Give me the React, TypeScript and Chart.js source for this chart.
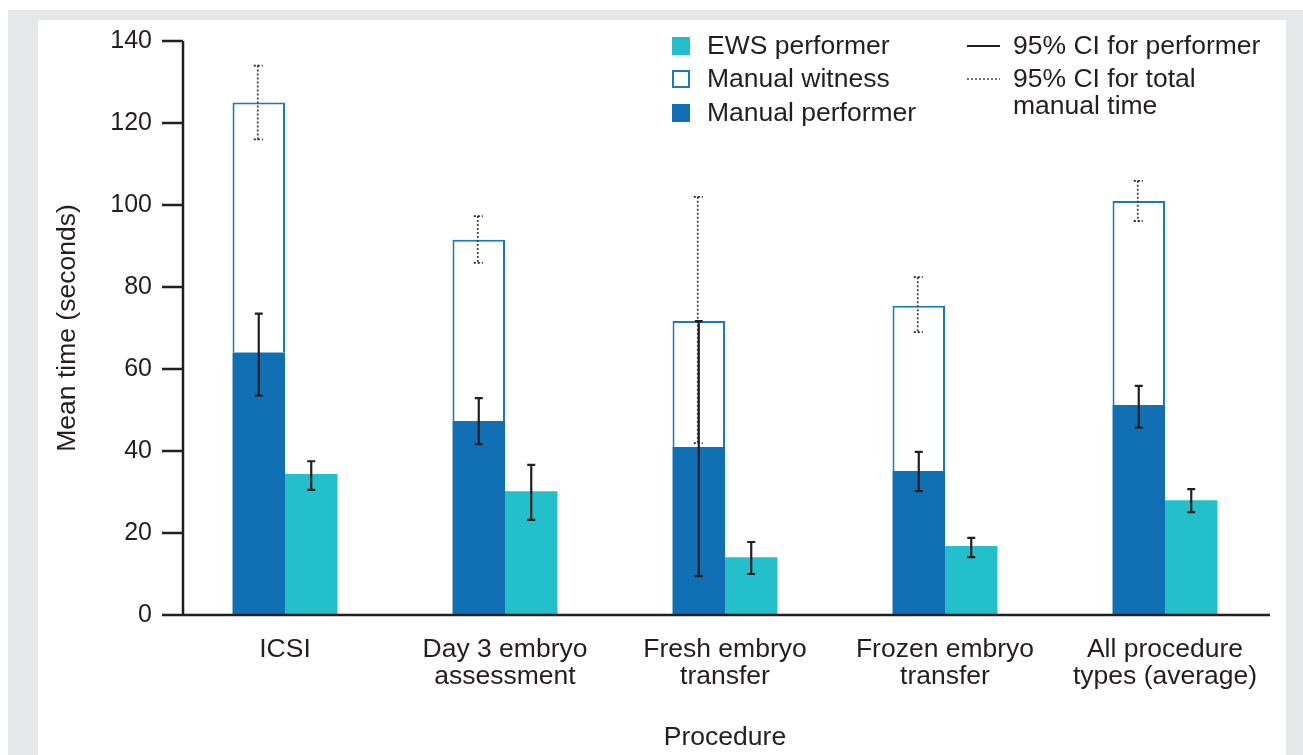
import React, { useEffect, useRef } from 'react';
import { Chart, registerables } from 'chart.js';

Chart.register(...registerables);

const categories = [
  ['ICSI'],
  ['Day 3 embryo', 'assessment'],
  ['Fresh embryo', 'transfer'],
  ['Frozen embryo', 'transfer'],
  ['All procedure', 'types (average)'],
];
const manualPerformer = [64, 47.3, 41, 35.1, 51.2];
const manualWitness = [61, 44.2, 30.7, 40.3, 49.8];
const ewsPerformer = [34.4, 30.2, 14.1, 16.8, 28];
const ciPerformerLow = [53.5, 41.7, 9.5, 30.2, 45.7];
const ciPerformerHigh = [73.5, 52.9, 71.7, 39.8, 55.9];
const ciTotalLow = [116, 85.9, 41.9, 69, 96.1];
const ciTotalHigh = [134, 97.3, 102, 82.4, 105.9];
const ciEwsLow = [30.5, 23.2, 10, 14.1, 25.1];
const ciEwsHigh = [37.5, 36.6, 17.8, 18.8, 30.7];
const yTicks = [0, 20, 40, 60, 80, 100, 120, 140];
const legendBoxLabels = ['EWS performer', 'Manual witness', 'Manual performer'];
const legendLineLabels = [['95% CI for performer'], ['95% CI for total', 'manual time']];
const yTitle = 'Mean time (seconds)';
const xTitle = 'Procedure';

const FONT = '"Liberation Sans", Arial, Helvetica, sans-serif';
const INK = '#231f20';
const BLUE = '#1170b3';
const TEAL = '#23bfca';
const OUTLINE = '#1a78bf';

const axesPlugin = {
  id: 'customAxes',
  afterDatasetsDraw(chart: any) {
    const { ctx, chartArea } = chart;
    const y = chart.scales.y;
    const ax = chartArea.left + 8;
    ctx.save();
    ctx.strokeStyle = INK;
    ctx.lineWidth = 2.5;
    ctx.beginPath();
    ctx.moveTo(ax, y.getPixelForValue(yTicks[yTicks.length - 1]));
    ctx.lineTo(ax, y.getPixelForValue(0));
    yTicks.forEach((v) => {
      const py = y.getPixelForValue(v);
      ctx.moveTo(ax - 21, py);
      ctx.lineTo(ax, py);
    });
    const y0 = y.getPixelForValue(0);
    ctx.moveTo(ax, y0);
    ctx.lineTo(chartArea.right - 5, y0);
    ctx.stroke();
    ctx.restore();
  },
};

function solidBar(ctx: any, x: number, y1: number, y2: number) {
  ctx.save();
  ctx.strokeStyle = INK;
  ctx.lineWidth = 2.2;
  ctx.setLineDash([]);
  ctx.beginPath();
  ctx.moveTo(x, y1);
  ctx.lineTo(x, y2);
  ctx.moveTo(x - 4, y1);
  ctx.lineTo(x + 4, y1);
  ctx.moveTo(x - 4, y2);
  ctx.lineTo(x + 4, y2);
  ctx.stroke();
  ctx.restore();
}

function dottedBar(ctx: any, x: number, y1: number, y2: number) {
  ctx.save();
  ctx.strokeStyle = '#444';
  ctx.lineWidth = 1.8;
  ctx.setLineDash([2, 2]);
  ctx.beginPath();
  ctx.moveTo(x, y1);
  ctx.lineTo(x, y2);
  ctx.stroke();
  ctx.strokeStyle = INK;
  ctx.beginPath();
  ctx.moveTo(x - 4, y1);
  ctx.lineTo(x + 5, y1);
  ctx.moveTo(x - 4, y2);
  ctx.lineTo(x + 5, y2);
  ctx.stroke();
  ctx.restore();
}

const errorPlugin = {
  id: 'errorBars',
  afterDatasetsDraw(chart: any) {
    const { ctx } = chart;
    const y = chart.scales.y;
    const perfMeta = chart.getDatasetMeta(0);
    const ewsMeta = chart.getDatasetMeta(2);
    for (let i = 0; i < categories.length; i++) {
      const xp = perfMeta.data[i].x;
      const xe = ewsMeta.data[i].x;
      dottedBar(ctx, xp - 1, y.getPixelForValue(ciTotalHigh[i]), y.getPixelForValue(ciTotalLow[i]));
      solidBar(ctx, xp, y.getPixelForValue(ciPerformerHigh[i]), y.getPixelForValue(ciPerformerLow[i]));
      solidBar(ctx, xe, y.getPixelForValue(ciEwsHigh[i]), y.getPixelForValue(ciEwsLow[i]));
    }
  },
};

const legendPlugin = {
  id: 'customLegend',
  afterDraw(chart: any) {
    const { ctx } = chart;
    ctx.save();
    ctx.font = `26.5px ${FONT}`;
    ctx.textBaseline = 'middle';
    ctx.textAlign = 'left';
    const rowsY = [26, 59, 93];
    const boxX = 634;
    const textX = 669;
    ctx.fillStyle = TEAL;
    ctx.fillRect(boxX, rowsY[0] - 9, 18, 18);
    ctx.fillStyle = '#fff';
    ctx.fillRect(boxX, rowsY[1] - 9, 18, 18);
    ctx.strokeStyle = OUTLINE;
    ctx.lineWidth = 2;
    ctx.strokeRect(boxX + 1, rowsY[1] - 8, 16, 16);
    ctx.fillStyle = BLUE;
    ctx.fillRect(boxX, rowsY[2] - 9, 18, 18);
    ctx.fillStyle = INK;
    legendBoxLabels.forEach((t, i) => ctx.fillText(t, textX, rowsY[i] + 1));
    const lx1 = 929;
    const lx2 = 962;
    const ltx = 975;
    ctx.strokeStyle = INK;
    ctx.lineWidth = 2;
    ctx.beginPath();
    ctx.moveTo(lx1, rowsY[0]);
    ctx.lineTo(lx2, rowsY[0]);
    ctx.stroke();
    ctx.lineWidth = 1.5;
    ctx.setLineDash([2, 2]);
    ctx.strokeStyle = '#444';
    ctx.beginPath();
    ctx.moveTo(lx1, rowsY[1]);
    ctx.lineTo(lx2, rowsY[1]);
    ctx.stroke();
    ctx.setLineDash([]);
    ctx.fillStyle = INK;
    legendLineLabels.forEach((lines, i) => {
      lines.forEach((t, j) => ctx.fillText(t, ltx, rowsY[i] + 1 + j * 27));
    });
    ctx.restore();
  },
};

export default function App() {
  const ref = useRef<HTMLCanvasElement | null>(null);
  useEffect(() => {
    if (!ref.current) return;
    const chart = new Chart(ref.current, {
      type: 'bar',
      data: {
        labels: categories as any,
        datasets: [
          {
            label: 'Manual performer',
            data: manualPerformer,
            backgroundColor: BLUE,
            borderWidth: 0,
            stack: 'manual',
          },
          {
            label: 'Manual witness',
            data: manualWitness,
            backgroundColor: '#ffffff',
            borderColor: OUTLINE,
            borderWidth: 2,
            stack: 'manual',
          },
          {
            label: 'EWS performer',
            data: ewsPerformer,
            backgroundColor: TEAL,
            borderWidth: 0,
            stack: 'ews',
          },
        ],
      },
      options: {
        responsive: false,
        animation: false,
        events: [],
        layout: { padding: { top: 21, right: 11, left: 0, bottom: 0 } },
        datasets: { bar: { categoryPercentage: 0.477, barPercentage: 1 } },
        plugins: { legend: { display: false }, tooltip: { enabled: false } },
        scales: {
          x: {
            stacked: true,
            grid: { display: false, drawTicks: false },
            border: { display: false },
            ticks: {
              color: INK,
              font: { family: FONT, size: 26.5, lineHeight: 1.02 },
              padding: 21,
              maxRotation: 0,
              autoSkip: false,
            },
            title: {
              display: true,
              text: xTitle,
              color: INK,
              font: { family: FONT, size: 26.5, lineHeight: 1.2 },
              padding: { top: 0, bottom: 1 },
            },
            afterFit(scale: any) {
              scale.height = 140;
              scale.paddingLeft = 0;
              scale.paddingRight = 0;
            },
          },
          y: {
            stacked: true,
            min: 0,
            max: 140,
            grid: { display: false, drawTicks: false },
            border: { display: false },
            ticks: {
              stepSize: 20,
              color: INK,
              font: { family: FONT, size: 25 },
              padding: 23,
            },
            title: {
              display: true,
              text: yTitle,
              color: INK,
              font: { family: FONT, size: 26.5, lineHeight: 1.2 },
              padding: { top: 14, bottom: 0 },
            },
            afterFit(scale: any) {
              scale.width = 137;
              scale.paddingTop = 0;
              scale.paddingBottom = 0;
            },
          },
        },
      },
      plugins: [axesPlugin, errorPlugin, legendPlugin],
    });
    return () => chart.destroy();
  }, []);

  return (
    <div
      style={{
        position: 'absolute',
        left: 8,
        top: 10,
        width: 1295,
        height: 745,
        background: '#e6e7e8',
        overflow: 'hidden',
      }}
    >
      <div
        style={{
          position: 'absolute',
          left: 30,
          top: 10,
          width: 1248,
          height: 735,
          background: '#ffffff',
        }}
      >
        <canvas ref={ref} width={1248} height={735} style={{ display: 'block' }} />
      </div>
    </div>
  );
}
